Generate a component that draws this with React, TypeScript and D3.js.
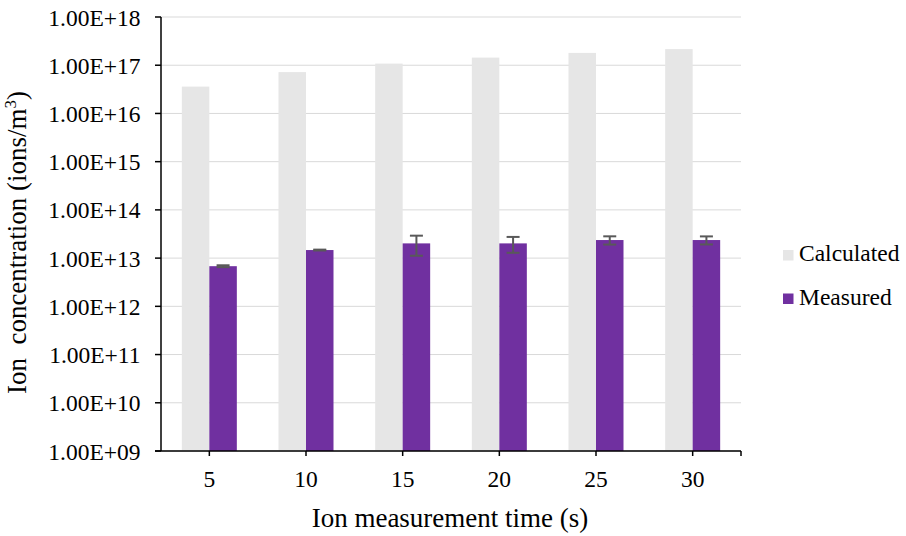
import React from "react";
import * as d3 from "d3";

const categories = ["5", "10", "15", "20", "25", "30"];
const calculated = [3.6e16, 7.2e16, 1.08e17, 1.44e17, 1.8e17, 2.16e17];
const measured = [6.8e12, 1.47e13, 2.02e13, 2.02e13, 2.37e13, 2.37e13];
const measuredErr = [0.03e13, 0.03e13, 0.9e13, 0.73e13, 0.46e13, 0.45e13];
const yTickExps = [9, 10, 11, 12, 13, 14, 15, 16, 17, 18];
const seriesNames = ["Calculated", "Measured"];

const W = 906;
const H = 536;
const left = 161;
const right = 741;
const top = 17;
const bottom = 451;
const font = "Liberation Serif";
const calcColor = "#e6e6e6";
const measColor = "#7030a0";
const errColor = "#595959";
const tickFs = 23.5;
const titleFs = 27;

export default function App() {
  const x = d3.scaleBand<string>().domain(categories).range([left, right]).paddingInner(0).paddingOuter(0);
  const y = d3.scaleLog().domain([1e9, 1e18]).range([bottom, top]);
  const bw = 27.5;
  const fmt = (e: number) => "1.00E+" + (e < 10 ? "0" + e : String(e));

  return (
    <svg width={W} height={H} style={{ position: "absolute", left: 0, top: 0, background: "#fff" }} fontFamily={font}>
      <rect x={0} y={0} width={W} height={H} fill="#fff" />
      {yTickExps.map((e) => (
        <line key={"g" + e} x1={left} x2={right} y1={y(Math.pow(10, e))} y2={y(Math.pow(10, e))} stroke="#d9d9d9" strokeWidth={1} />
      ))}
      {categories.map((c, i) => {
        const cx = (x(c) as number) + x.bandwidth() / 2;
        const yc = y(calculated[i]);
        const ym = y(measured[i]);
        const eTop = y(measured[i] + measuredErr[i]);
        const eBot = y(measured[i] - measuredErr[i]);
        return (
          <g key={c}>
            <rect x={cx - bw} y={yc} width={bw} height={bottom - yc} fill={calcColor} />
            <rect x={cx} y={ym} width={bw} height={bottom - ym} fill={measColor} />
            <line x1={cx + bw / 2} x2={cx + bw / 2} y1={eTop} y2={eBot} stroke={errColor} strokeWidth={2} />
            <line x1={cx + bw / 2 - 6.5} x2={cx + bw / 2 + 6.5} y1={eTop} y2={eTop} stroke={errColor} strokeWidth={2} />
            <line x1={cx + bw / 2 - 6.5} x2={cx + bw / 2 + 6.5} y1={eBot} y2={eBot} stroke={errColor} strokeWidth={2} />
          </g>
        );
      })}
      <line x1={left} x2={left} y1={top} y2={bottom} stroke="#000" strokeWidth={1.5} />
      {yTickExps.map((e) => {
        const yy = y(Math.pow(10, e));
        return (
          <g key={"t" + e}>
            <line x1={left - 6} x2={left} y1={yy} y2={yy} stroke="#000" strokeWidth={1.5} />
            <text x={140.5} y={yy + 8.5} textAnchor="end" fontFamily={font} fontSize={tickFs} fill="#000">
              {fmt(e)}
            </text>
          </g>
        );
      })}
      <line x1={left - 6} x2={right} y1={bottom} y2={bottom} stroke="#000" strokeWidth={1.5} />
      {categories.map((c) => {
        const cx = (x(c) as number) + x.bandwidth() / 2;
        return (
          <g key={"x" + c}>
            <line x1={cx} x2={cx} y1={bottom} y2={bottom + 5} stroke="#000" strokeWidth={1.5} />
            <text x={cx} y={487} textAnchor="middle" fontFamily={font} fontSize={tickFs} fill="#000">
              {c}
            </text>
          </g>
        );
      })}
      <line x1={right} x2={right} y1={bottom} y2={bottom + 5} stroke="#000" strokeWidth={1.5} />
      <text x={450} y={526.5} textAnchor="middle" fontFamily={font} fontSize={titleFs} fill="#000">
        Ion measurement time (s)
      </text>
      <text transform="translate(26,242.5) rotate(-90)" textAnchor="middle" fontFamily={font} fontSize={titleFs} fill="#000" xmlSpace="preserve">
        <tspan>Ion  concentration (ions/m</tspan>
        <tspan fontSize={17} dy={-10}>3</tspan>
        <tspan dy={10}>)</tspan>
      </text>
      {seriesNames.map((n, i) => {
        const yy = 255.5 + i * 43.5;
        return (
          <g key={n}>
            <rect x={783} y={yy - 5.5} width={10.5} height={10.5} fill={i === 0 ? calcColor : measColor} />
            <text x={799} y={yy + 5.5} fontFamily={font} fontSize={tickFs} fill="#000">
              {n}
            </text>
          </g>
        );
      })}
    </svg>
  );
}
